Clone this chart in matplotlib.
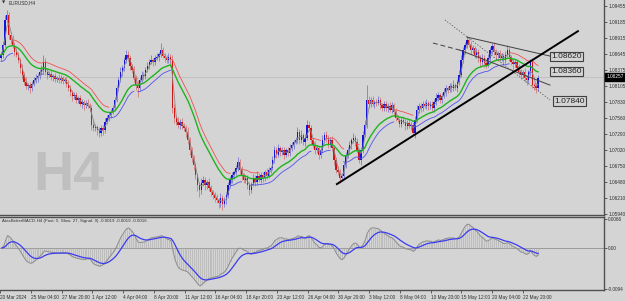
import numpy as np
import pandas as pd
import matplotlib

matplotlib.use("Agg")
import matplotlib.pyplot as plt  # noqa: E402

# EURUSD H4 closes, one per bar (20 Mar 16:00 .. 24 May 04:00)
close = [
    1.0863, 1.0880, 1.0922, 1.0930, 1.0897, 1.0888, 1.0880, 1.0868, 1.0863, 1.0854,
    1.0841, 1.0829, 1.0817, 1.0810, 1.0812, 1.0807, 1.0814, 1.0821, 1.0824, 1.0827,
    1.0834, 1.0838, 1.0851, 1.0834, 1.0829, 1.0830, 1.0826, 1.0827, 1.0822, 1.0824,
    1.0821, 1.0824, 1.0819, 1.0821, 1.0814, 1.0807, 1.0800, 1.0794, 1.0795, 1.0787,
    1.0790, 1.0780, 1.0783, 1.0778, 1.0782, 1.0777, 1.0773, 1.0745, 1.0740, 1.0741,
    1.0736, 1.0731, 1.0740, 1.0736, 1.0750, 1.0757, 1.0762, 1.0767, 1.0773, 1.0787,
    1.0807, 1.0821, 1.0834, 1.0841, 1.0854, 1.0863, 1.0858, 1.0844, 1.0838, 1.0824,
    1.0812, 1.0807, 1.0821, 1.0829, 1.0827, 1.0838, 1.0844, 1.0851, 1.0854, 1.0851,
    1.0858, 1.0859, 1.0864, 1.0871, 1.0861, 1.0858, 1.0854, 1.0859, 1.0854, 1.0773,
    1.0757, 1.0750, 1.0745, 1.0750, 1.0743, 1.0740, 1.0733, 1.0719, 1.0702, 1.0689,
    1.0677, 1.0660, 1.0643, 1.0635, 1.0647, 1.0652, 1.0643, 1.0648, 1.0638, 1.0631,
    1.0627, 1.0622, 1.0618, 1.0613, 1.0622, 1.0612, 1.0618, 1.0627, 1.0643, 1.0652,
    1.0660, 1.0665, 1.0672, 1.0682, 1.0669, 1.0660, 1.0652, 1.0655, 1.0643, 1.0635,
    1.0645, 1.0655, 1.0648, 1.0659, 1.0652, 1.0660, 1.0655, 1.0665, 1.0659, 1.0669,
    1.0672, 1.0686, 1.0702, 1.0694, 1.0706, 1.0699, 1.0702, 1.0694, 1.0702, 1.0697,
    1.0706, 1.0711, 1.0716, 1.0719, 1.0733, 1.0719, 1.0728, 1.0716, 1.0723, 1.0745,
    1.0740, 1.0719, 1.0711, 1.0702, 1.0706, 1.0694, 1.0702, 1.0719, 1.0728, 1.0723,
    1.0711, 1.0719, 1.0706, 1.0686, 1.0669, 1.0665, 1.0655, 1.0659, 1.0677, 1.0694,
    1.0702, 1.0711, 1.0719, 1.0723, 1.0716, 1.0702, 1.0686, 1.0702, 1.0728, 1.0745,
    1.0787, 1.0780, 1.0787, 1.0780, 1.0783, 1.0782, 1.0787, 1.0778, 1.0773, 1.0780,
    1.0773, 1.0777, 1.0770, 1.0778, 1.0767, 1.0757, 1.0753, 1.0747, 1.0753, 1.0750,
    1.0743, 1.0748, 1.0743, 1.0745, 1.0731, 1.0753, 1.0770, 1.0777, 1.0773, 1.0780,
    1.0777, 1.0782, 1.0777, 1.0780, 1.0773, 1.0783, 1.0790, 1.0795, 1.0787, 1.0794,
    1.0800, 1.0807, 1.0804, 1.0810, 1.0807, 1.0812, 1.0807, 1.0817, 1.0829, 1.0854,
    1.0871, 1.0880, 1.0888, 1.0880, 1.0871, 1.0874, 1.0863, 1.0868, 1.0858, 1.0851,
    1.0858, 1.0849, 1.0846, 1.0858, 1.0871, 1.0878, 1.0868, 1.0863, 1.0866, 1.0858,
    1.0861, 1.0854, 1.0863, 1.0871, 1.0859, 1.0851, 1.0847, 1.0851, 1.0841, 1.0834,
    1.0829, 1.0834, 1.0824, 1.0821, 1.0834, 1.0851, 1.0812, 1.0810, 1.0807, 1.0824,
]
first_open = 1.0858

# upper / lower wick lengths in pips beyond the candle body
wick_hi = [
    5, 7, 9, 9, 6, 5, 8, 4, 6, 5, 4, 7, 5, 8, 4, 6, 5, 4, 7, 5,
    5, 8, 12, 6, 4, 5, 7, 4, 5, 4, 6, 5, 4, 5, 4, 7, 5, 4, 6, 5,
    4, 6, 5, 4, 5, 7, 4, 5, 8, 5, 4, 6, 5, 4, 7, 5, 4, 5, 6, 5,
    6, 5, 8, 5, 6, 8, 7, 5, 4, 6, 5, 8, 4, 6, 5, 4, 7, 5, 8, 4,
    5, 7, 4, 12, 6, 5, 4, 7, 5, 9, 7, 5, 8, 4, 6, 5, 4, 8, 6, 5,
    5, 6, 4, 5, 8, 6, 5, 4, 7, 5, 4, 5, 6, 4, 8, 5, 6, 4, 5, 6,
    5, 4, 6, 9, 5, 7, 4, 5, 6, 5, 4, 7, 5, 8, 4, 6, 5, 4, 7, 5,
    4, 6, 8, 5, 7, 4, 5, 6, 4, 5, 7, 5, 4, 6, 9, 5, 8, 4, 6, 8,
    7, 5, 4, 6, 5, 4, 7, 8, 5, 6, 4, 5, 7, 5, 4, 6, 5, 4, 6, 5,
    5, 6, 4, 8, 5, 7, 4, 5, 6, 8, 25, 6, 5, 7, 4, 5, 6, 5, 4, 6,
    5, 4, 7, 5, 4, 6, 5, 4, 5, 7, 4, 5, 6, 4, 5, 7, 8, 5, 4, 6,
    5, 7, 4, 5, 6, 5, 8, 6, 4, 5, 7, 5, 4, 6, 5, 8, 4, 6, 9, 8,
    6, 5, 7, 5, 7, 5, 4, 6, 5, 4, 7, 5, 4, 6, 5, 5, 7, 5, 4, 6,
    5, 4, 6, 8, 5, 4, 7, 5, 4, 6, 5, 4, 7, 5, 3, 5, 7, 4, 5, 5,
]
wick_lo = [
    6, 5, 4, 5, 8, 6, 5, 7, 4, 5, 8, 6, 5, 4, 7, 8, 5, 4, 5, 6,
    4, 5, 7, 5, 6, 4, 5, 7, 5, 4, 5, 6, 5, 4, 6, 5, 7, 8, 5, 6,
    5, 4, 6, 8, 5, 4, 7, 9, 6, 5, 8, 6, 5, 8, 5, 4, 6, 5, 4, 5,
    4, 5, 4, 6, 5, 4, 5, 7, 5, 6, 8, 15, 5, 4, 6, 5, 4, 5, 4, 6,
    5, 4, 6, 5, 4, 7, 5, 4, 6, 8, 9, 6, 5, 7, 5, 6, 8, 6, 8, 7,
    8, 6, 9, 12, 6, 5, 8, 6, 5, 6, 8, 7, 5, 8, 6, 11, 5, 6, 5, 4,
    5, 6, 4, 5, 7, 8, 6, 5, 7, 9, 5, 4, 6, 5, 4, 5, 6, 4, 5, 4,
    5, 4, 6, 5, 4, 7, 5, 6, 4, 5, 4, 5, 7, 4, 5, 6, 4, 5, 6, 4,
    5, 7, 5, 6, 4, 6, 5, 4, 5, 7, 5, 4, 6, 8, 6, 5, 8, 5, 4, 5,
    5, 4, 6, 5, 7, 5, 6, 9, 5, 4, 5, 6, 5, 4, 6, 5, 4, 7, 5, 4,
    5, 6, 4, 5, 7, 5, 4, 6, 5, 4, 6, 5, 4, 6, 3, 8, 4, 5, 6, 5,
    4, 5, 7, 5, 4, 6, 5, 4, 6, 5, 4, 7, 5, 4, 6, 5, 4, 6, 5, 4,
    5, 6, 5, 4, 7, 5, 6, 5, 7, 8, 5, 6, 5, 4, 5, 6, 5, 7, 5, 6,
    5, 7, 5, 4, 6, 5, 7, 5, 6, 5, 7, 5, 6, 8, 5, 6, 5, 7, 8, 5,
]

price_ticks = [1.09455, 1.09185, 1.08915, 1.08645, 1.08375, 1.08105, 1.07830,
               1.07560, 1.07290, 1.07020, 1.06750, 1.06480, 1.06210, 1.05940]
last_price = 1.08257
macd_ticks = [0.0066, 0.0, -0.0094]
macd_tick_labels = ["0.0066", "0.00", "-0.0094"]

date_bars = [-1, 15, 31, 47, 63, 79, 95, 111, 127, 143, 159, 175, 191, 207,
             223, 239, 255, 271]
date_labels = ["20 Mar 2024", "25 Mar 04:00", "27 Mar 20:00", "1 Apr 12:00",
               "4 Apr 04:00", "8 Apr 20:00", "11 Apr 12:00", "16 Apr 04:00",
               "18 Apr 20:00", "23 Apr 12:00", "26 Apr 04:00", "30 Apr 20:00",
               "3 May 12:00", "8 May 04:00", "10 May 20:00", "15 May 12:00",
               "20 May 04:00", "22 May 20:00"]

# hand-drawn objects: (bar, price) end points
trend_line = [(174.5, 1.0645), (299.7, 1.0903)]
dotted_line = [(230.6, 1.0922), (285.2, 1.0787)]
channel_upper = [(242.1, 1.0893), (285.2, 1.0861)]
channel_lower_dash = [(224.4, 1.0883), (238.4, 1.0871)]
channel_lower = [(238.4, 1.0871), (285.2, 1.0812)]
level_labels = [(285.8, 1.0860, "1.08620"), (285.8, 1.0835, "1.08360"),
                (287.3, 1.0785, "1.07840")]

BG = "#d4d4d4"
PIP = 0.0001
SMALL = ["Liberation Sans", "DejaVu Sans"]
FS = 3.4

c = pd.Series(close)
o = pd.Series([first_open] + close[:-1])
hi = np.maximum(o, c) + np.array(wick_hi) * PIP
lo = np.minimum(o, c) - np.array(wick_lo) * PIP
x = np.arange(len(close))

ema_mid = c.ewm(span=21, adjust=False).mean()
ema_hi = pd.Series(hi).ewm(span=21, adjust=False).mean()
ema_lo = pd.Series(lo).ewm(span=21, adjust=False).mean()
# upper band only while the middle line falls, lower band only while it rises
slope = ema_mid.diff()
red_band = ema_hi.where((slope < 0) | (slope.shift(-1) < 0))
blue_band = ema_lo.where((slope > 0) | (slope.shift(-1) > 0))
fast_line = c.rolling(3, min_periods=1).mean()

macd = c.ewm(span=5, adjust=False).mean() - c.ewm(span=27, adjust=False).mean()
signal = macd.ewm(span=9, adjust=False).mean()

W, H = 625, 301
fig = plt.figure(figsize=(W / 100, H / 100), dpi=100)
fig.patch.set_facecolor(BG)
ax = fig.add_axes([0, 1 - 215 / H, 604 / W, 215 / H])
ax2 = fig.add_axes([0, 1 - 290 / H, 604 / W, 73 / H])

k = 0.0027 / 16  # price per pixel
ax.set_ylim(1.09455 - 209 * k, 1.09455 + 6 * k)
xl = (-1 / 1.925, 603 / 1.925)
for a in (ax, ax2):
    a.set_facecolor(BG)
    a.set_xlim(*xl)
    a.spines["left"].set_visible(False)
    for s in ("top", "right", "bottom"):
        a.spines[s].set_color("#505050")
        a.spines[s].set_linewidth(1.0)
ax.spines["top"].set_visible(False)

# watermark and current price line
ax.text(33 / 604, 25 / 215, "H4", transform=ax.transAxes, fontsize=40,
        fontweight="bold", color="#bfbfbf", family=SMALL, va="baseline", zorder=0)
ax.axhline(last_price, color="#c2c2c2", lw=0.8, zorder=0.5)

# candles
up = c >= o
body_lo = np.minimum(o, c)
body_h = np.maximum(np.abs(c - o), 0.4 * PIP)
cols = np.where(up, "#1414d8", "#d41414")
ax.vlines(x, lo, hi, colors=cols, lw=0.7, alpha=0.4, zorder=2)
ax.bar(x, body_h, bottom=body_lo, width=0.7, color=cols, lw=0, zorder=3)

ax.plot(x, fast_line, color="#8a8a8a", lw=0.6, zorder=4)
ax.plot(x, ema_mid, color="#1fb31f", lw=1.0, zorder=4)
ax.plot(x, red_band, color="#f05050", lw=0.6, zorder=4)
ax.plot(x, blue_band, color="#5050f0", lw=0.6, zorder=4)

# drawn objects
(x0, y0), (x1, y1) = trend_line
ax.plot([x0, x1], [y0, y1], color="black", lw=1.4, zorder=6)
(x0, y0), (x1, y1) = dotted_line
ax.plot([x0, x1], [y0, y1], color="#555555", lw=0.6, ls=(0, (1.5, 2)), zorder=5)
(x0, y0), (x1, y1) = channel_upper
ax.plot([x0, x1], [y0, y1], color="#404040", lw=0.7, zorder=5)
(x0, y0), (x1, y1) = channel_lower_dash
ax.plot([x0, x1], [y0, y1], color="#404040", lw=0.7, ls=(0, (5, 3)), zorder=5)
(x0, y0), (x1, y1) = channel_lower
ax.plot([x0, x1], [y0, y1], color="#404040", lw=0.7, zorder=5)
for bx, by, txt in level_labels:
    ax.text(bx, by, txt, fontsize=6, color="#202020", ha="left", va="center",
            family=SMALL, zorder=7,
            bbox=dict(boxstyle="square,pad=0.15", fc=BG, ec="#404040", lw=0.8))

# price scale
ax.yaxis.tick_right()
ax.set_yticks(price_ticks)
ax.set_yticklabels([f"{p:.5f}" for p in price_ticks])
ax.tick_params(axis="y", length=2, width=0.5, colors="#303030", labelsize=FS, pad=1)
ax.set_xticks([])
ax.text(1.004, last_price, f"{last_price:.5f}", transform=ax.get_yaxis_transform(),
        fontsize=FS, color="white", family=SMALL, ha="left", va="center",
        bbox=dict(boxstyle="square,pad=0.25", fc="black", ec="black"), zorder=8,
        clip_on=False)
ax.text(2 / 604, 1 - 3 / 215, "\u25bc", transform=ax.transAxes, fontsize=3,
        color="#303030", va="center", ha="left", family=["DejaVu Sans"])
ax.text(9 / 604, 1 - 3 / 215, "EURUSD,H4", transform=ax.transAxes, fontsize=FS,
        color="#303030", va="center", ha="left", family=SMALL)

# MACD pane
ax2.set_ylim(-0.0094 - 1 * 0.016 / 70, 0.0066 + 2 * 0.016 / 70)
ax2.axhline(0, color="#9a9a9a", lw=0.7, zorder=1)
ax2.vlines(x, 0, macd, colors="#b4b4b4", lw=0.5, zorder=2)
ax2.plot(x, macd, color="#8c8c8c", lw=0.7, zorder=3)
ax2.plot(x, signal, color="#3b3bf0", lw=0.9, zorder=4)
ax2.yaxis.tick_right()
ax2.set_yticks(macd_ticks)
ax2.set_yticklabels(macd_tick_labels)
ax2.tick_params(axis="y", length=2, width=0.5, colors="#303030", labelsize=FS, pad=1)
ax2.set_xticks(date_bars)
ax2.set_xticklabels(date_labels)
ax2.tick_params(axis="x", length=2, width=0.5, colors="#303030", labelsize=FS, pad=1.5)
for t in (ax.get_yticklabels() + ax2.get_xticklabels() + ax2.get_yticklabels()):
    t.set_family(SMALL)
for t in ax2.get_xticklabels():
    t.set_ha("left")
ax2.text(2 / 604, 1 - 4 / 73,
         "AtasBetterMACD-H4 (Fast: 5, Slow: 27, Signal: 9) -0.0019 -0.0019 -0.0016",
         transform=ax2.transAxes, fontsize=3.2, color="#303030", va="center",
         ha="left", family=SMALL)

fig.savefig("out.png", dpi=100, facecolor=BG)
